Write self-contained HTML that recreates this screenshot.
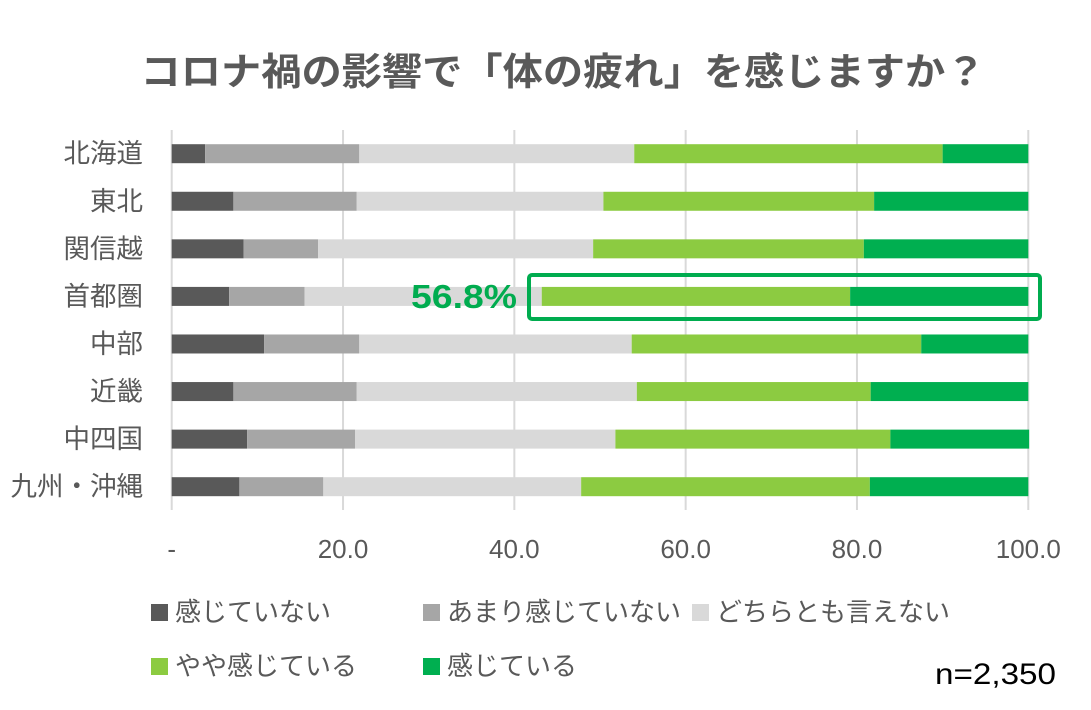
<!DOCTYPE html>
<html><head><meta charset="utf-8"><style>
body{margin:0;background:#fff;width:1091px;height:705px;overflow:hidden;font-family:"Liberation Sans","Noto Sans CJK JP",sans-serif}
</style></head><body>
<svg id="chart" width="1091" height="705" xmlns="http://www.w3.org/2000/svg" font-family="Liberation Sans, Noto Sans CJK JP, sans-serif">
<text x="563" y="85" text-anchor="middle" font-size="38" font-weight="bold" fill="#595959" textLength="845" lengthAdjust="spacingAndGlyphs">コロナ禍の影響で「体の疲れ」を感じますか？</text>
<g id="grid"></g><g id="bars"></g><g id="labels"></g><g id="ticks"></g>
<rect x="529" y="275" width="511" height="44" rx="3" fill="none" stroke="#00AC4F" stroke-width="4"/>
<text x="517" y="308" text-anchor="end" font-size="33" font-weight="bold" fill="#00AC4F" textLength="106" lengthAdjust="spacingAndGlyphs">56.8%</text>
<g id="legend"></g>
<text x="1056" y="684" text-anchor="end" font-size="30" fill="#000" textLength="121" lengthAdjust="spacingAndGlyphs">n=2,350</text>
</svg>
<script>
const categories=["北海道","東北","関信越","首都圏","中部","近畿","中四国","九州・沖縄"];
const seriesNames=["感じていない","あまり感じていない","どちらとも言えない","やや感じている","感じている"];
const s1=[3.9,7.2,8.4,6.7,10.8,7.2,8.8,7.9];
const s2=[18.0,14.4,8.7,8.8,11.1,14.4,12.6,9.8];
const s3=[32.1,28.8,32.1,27.7,31.8,32.7,30.4,30.1];
const s4=[36.0,31.6,31.6,36.0,33.8,27.3,32.1,33.7];
const s5=[10.0,18.0,19.2,20.8,12.5,18.4,16.2,18.5];
const tickValues=[0,20,40,60,80,100];
const tickLabels=["-","20.0","40.0","60.0","80.0","100.0"];
const colors=["#595959","#A6A6A6","#D9D9D9","#8CCB41","#00AF50"];
const NS="http://www.w3.org/2000/svg";
const x0=171.7,x1=1028.3;
function xs(v){return x0+(x1-x0)*v/100;}
function yc(i){return 153.7+i*47.57;}
function mk(t,a,p){const e=document.createElementNS(NS,t);for(const k in a)e.setAttribute(k,a[k]);p.appendChild(e);return e;}
const grid=document.getElementById('grid');
tickValues.forEach((v,i)=>{
 const l=mk('line',{x1:xs(v),x2:xs(v),y1:130,y2:510,stroke:'#D9D9D9','stroke-width':2},grid);
 
 
 const t=mk('text',{x:xs(v),y:558,'text-anchor':'middle','font-size':26,fill:'#595959'},document.getElementById('ticks'));
 t.textContent=tickLabels[i];
 
 
});
const series=[s1,s2,s3,s4,s5];
const bars=document.getElementById('bars');
categories.forEach((c,i)=>{
 let acc=0;
 series.forEach((s,k)=>{
  const r=mk('rect',{x:xs(acc),y:yc(i)-9.5,width:xs(acc+s[i])-xs(acc),height:19,fill:colors[k]},bars);
  
  
  acc+=s[i];
 });
 const t=mk('text',{x:143,y:yc(i)+9,'text-anchor':'end','font-size':26.5,fill:'#595959'},document.getElementById('labels'));
 t.textContent=c;
 
 
});
const lg=document.getElementById('legend');
const lpos=[[151,612],[423,612],[692,612],[151,666],[423,666]];
seriesNames.forEach((n,k)=>{
 const g=mk('g',{},lg);
 
 
 mk('rect',{x:lpos[k][0],y:lpos[k][1]-8,width:17,height:17,fill:colors[k]},g);
 const t=mk('text',{x:lpos[k][0]+24,y:lpos[k][1]+9,'font-size':26,fill:'#595959'},g);
 t.textContent=n;
});
</script>
</body></html>
